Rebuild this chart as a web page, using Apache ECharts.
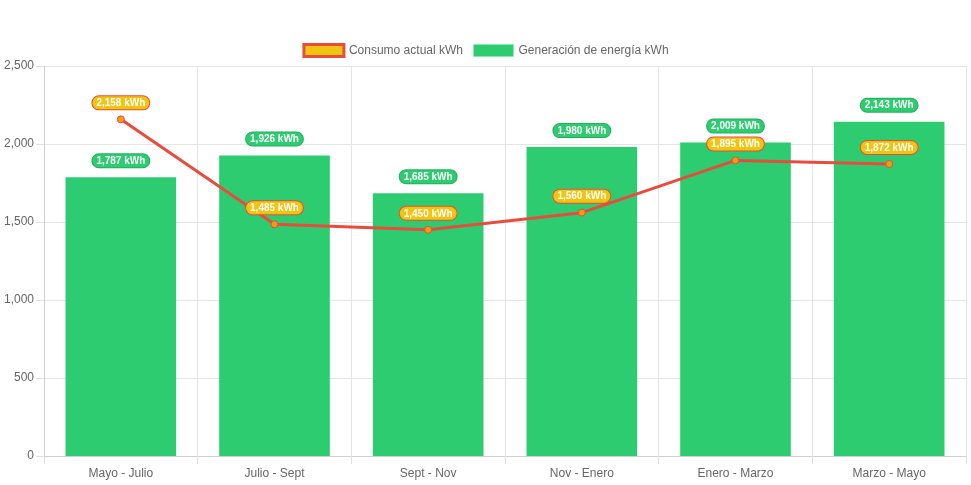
<!DOCTYPE html>
<html>
<head>
<meta charset="utf-8">
<script src="https://cdn.jsdelivr.net/npm/echarts@6/dist/echarts.min.js"></script>
<style>
html,body{margin:0;padding:0;background:#fff;}
#c{width:971px;height:485px;}
</style>
</head>
<body>
<div id="c"></div>
<script>
const categories = ['Mayo - Julio', 'Julio - Sept', 'Sept - Nov', 'Nov - Enero', 'Enero - Marzo', 'Marzo - Mayo'];
const consumo = [2158, 1485, 1450, 1560, 1895, 1872];
const generacion = [1787, 1926, 1685, 1980, 2009, 2143];
const yTicks = { min: 0, max: 2500, interval: 500 };

const chart = echarts.init(document.getElementById('c'));
const fmt = p => p.value.toLocaleString('en-US') + ' kWh';
const font = 'Liberation Sans, Arial, Helvetica, sans-serif';
chart.setOption({
  animation: false,
  textStyle: { fontFamily: font },
  legend: {
    top: 38, left: 'center', itemWidth: 40, itemHeight: 12, itemGap: 10,
    textStyle: { color: '#666', fontSize: 12, fontFamily: font },
    data: [
      { name: 'Consumo actual kWh', icon: 'rect', itemStyle: { color: '#f1c40f', borderColor: '#e74c3c', borderWidth: 3 } },
      { name: 'Generación de energía kWh', icon: 'rect', itemStyle: { color: '#2ecc71', borderColor: '#8fe8b4', borderWidth: 1 } }
    ]
  },
  grid: { left: 44, right: 5, top: 66, bottom: 29, containLabel: false },
  xAxis: {
    type: 'category', data: categories, boundaryGap: true,
    axisLine: { lineStyle: { color: '#d0d0d0' } },
    axisTick: { show: true, length: 8, lineStyle: { color: '#e0e0e0' } },
    axisLabel: { color: '#666', fontSize: 12, margin: 12, fontFamily: font },
    splitLine: { show: true, lineStyle: { color: '#e5e5e5' } }
  },
  yAxis: {
    type: 'value', min: yTicks.min, max: yTicks.max, interval: yTicks.interval,
    axisLine: { show: true, lineStyle: { color: '#d0d0d0' } },
    axisTick: { show: true, length: 8, lineStyle: { color: '#e0e0e0' } },
    axisLabel: { color: '#666', fontSize: 12, margin: 10, fontFamily: font, formatter: v => v.toLocaleString('en-US') },
    splitLine: { show: true, lineStyle: { color: '#e5e5e5' } }
  },
  series: [
    {
      name: 'Generación de energía kWh', type: 'bar', data: generacion, barWidth: '72%', z: 2,
      itemStyle: { color: '#2ecc71' },
      label: {
        show: true, position: 'top', distance: 10, formatter: fmt,
        color: '#fff', fontWeight: 'bold', fontSize: 10, fontFamily: font,
        backgroundColor: '#2ecc71', borderColor: '#27ae60', borderWidth: 1,
        borderRadius: 8, padding: [2, 4, 1, 4]
      }
    },
    {
      name: 'Consumo actual kWh', type: 'line', data: consumo, z: 5,
      symbol: 'circle', symbolSize: 7,
      lineStyle: { color: '#e74c3c', width: 3 },
      itemStyle: { color: '#f39c12', borderColor: '#e74c3c', borderWidth: 1 },
      label: {
        show: true, position: 'top', distance: 6, formatter: fmt,
        color: '#fff', fontWeight: 'bold', fontSize: 10, fontFamily: font,
        backgroundColor: '#f1c40f', borderColor: '#e74c3c', borderWidth: 1,
        borderRadius: 8, padding: [2, 4, 1, 4]
      }
    }
  ]
});
</script>
</body>
</html>
